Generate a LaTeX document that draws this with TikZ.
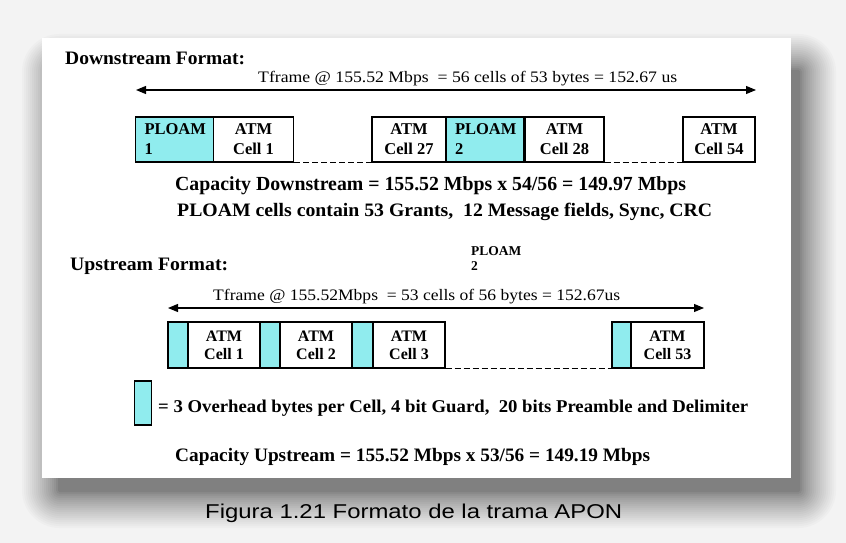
\documentclass[tikz,border=0pt]{standalone}
\usepackage{fontspec}
\setmainfont{Liberation Serif}
\newfontfamily\capfont{Liberation Sans}
\usetikzlibrary{arrows.meta}
\definecolor{ploamcyan}{RGB}{144,236,238}
\definecolor{pagebg}{RGB}{243,243,243}
\newcommand{\sq}[3]{\resizebox{#1}{\height}{\fontsize{#2}{#2}\selectfont #3}}
\newcommand{\cellfont}{\fontsize{16.5}{20}\selectfont\bfseries}
\newcommand{\ucellfont}{\fontsize{16}{18}\selectfont\bfseries}
\begin{document}
\begin{tikzpicture}[x=1pt,y=-1pt,
  cellbox/.style={draw=black,line width=1.1pt,inner sep=0pt,minimum height=45pt,align=center,font=\cellfont},
  ploambox/.style={cellbox,fill=ploamcyan,align=left,text width=60pt,inner xsep=9pt},
  ucell/.style={draw=black,line width=1.1pt,inner sep=0pt,minimum height=46pt,align=center,font=\ucellfont},
  guardbox/.style={draw=black,line width=1.1pt,fill=ploamcyan,inner sep=0pt,minimum height=46pt},
  gapline/.style={line width=1.6pt,dash pattern=on 6pt off 3pt},
  frameline/.style={line width=1.1pt,{Triangle[length=10pt,width=8pt]}-{Triangle[length=10pt,width=8pt]}},
  txt/.style={inner sep=0pt,anchor=west},
]
\useasboundingbox (0,0) rectangle (846,543);
\fill[pagebg] (0,0) rectangle (846,543);
% drop shadow (opaque steps, light to dark)
\foreach \r in {40,38,...,2} {
  \pgfmathtruncatemacro{\c}{128+115*((\r-2)/38)^0.8}
  \definecolor{shadestep}{RGB}{\c,\c,\c}
  \fill[shadestep,rounded corners=\r pt] ({60-\r},{72-\r}) rectangle ({798+\r},{490+\r});
}
% card
\fill[white] (42,38) rectangle (791,478);

% ---------- Downstream ----------
\node[txt] (dtitle) at (65,58) {\sq{180pt}{19}{\bfseries Downstream Format:}};
\node[txt] (dframe) at (258,79) {\sq{419pt}{16}{Tframe @ 155.52 Mbps \ = 56 cells of 53 bytes = 152.67 us}};
\coordinate (dl) at (136,90);
\coordinate (dr) at (756,90);
\draw[frameline] (dl) -- (dr);

\node[ploambox] (p1) at (174.5,139.5) {PLOAM\\1};
\node[cellbox,minimum width=80pt] (c1) at (253.5,139.5) {ATM\\Cell 1};
\node[cellbox,minimum width=74pt] (c27) at (409,139.5) {ATM\\Cell 27};
\node[ploambox] (p2) at (485,139.5) {PLOAM\\2};
\node[cellbox,minimum width=79pt] (c28) at (564.5,139.5) {ATM\\Cell 28};
\node[cellbox,minimum width=72pt] (c54) at (719,139.5) {ATM\\Cell 54};
\draw[gapline] (c1.south east) -- (c27.south west);
\draw[gapline] (c28.south east) -- (c54.south west);

\node[txt] (capdown) at (175,186) {\sq{511pt}{20}{\bfseries Capacity Downstream = 155.52 Mbps x 54/56 = 149.97 Mbps}};
\node[txt] (ploamtxt) at (177,212) {\sq{535pt}{19}{\bfseries PLOAM cells contain 53 Grants, \ 12 Message fields, Sync, CRC}};

% ---------- Upstream ----------
\node[txt] (utitle) at (70,266) {\sq{158pt}{19}{\bfseries Upstream Format:}};
\node[txt,align=left,font=\fontsize{13.5}{15}\selectfont\bfseries] (uploam) at (471,259) {PLOAM\\2};
\node[txt] (uframe) at (213,297) {\sq{407pt}{16}{Tframe @ 155.52Mbps \ = 53 cells of 56 bytes = 152.67us}};
\coordinate (ul) at (168,308);
\coordinate (ur) at (704,308);
\draw[frameline] (ul) -- (ur);

\node[guardbox,minimum width=20pt] (g1) at (178,345) {};
\node[ucell,minimum width=72pt] (u1) at (224,345) {ATM\\Cell 1};
\node[guardbox,minimum width=20pt] (g2) at (270,345) {};
\node[ucell,minimum width=72pt] (u2) at (316,345) {ATM\\Cell 2};
\node[guardbox,minimum width=21pt] (g3) at (362.5,345) {};
\node[ucell,minimum width=72pt] (u3) at (409,345) {ATM\\Cell 3};
\node[guardbox,minimum width=19pt] (g4) at (621.5,345) {};
\node[ucell,minimum width=73pt] (u53) at (667.5,345) {ATM\\Cell 53};
\draw[gapline] (u3.south east) -- (g4.south west);

% legend
\node[guardbox,minimum width=17pt,minimum height=44pt] (lg) at (143,403) {};
\node[txt] (legend) at (158,408) {\sq{590pt}{18}{\bfseries = 3 Overhead bytes per Cell, 4 bit Guard, \ 20 bits Preamble and Delimiter}};

\node[txt] (capup) at (175,457) {\sq{475pt}{19}{\bfseries Capacity Upstream = 155.52 Mbps x 53/56 = 149.19 Mbps}};

% caption
\node[txt] (caption) at (205,513) {\sq{417pt}{20}{\capfont Figura 1.21 Formato de la trama APON}};
\end{tikzpicture}
\end{document}
